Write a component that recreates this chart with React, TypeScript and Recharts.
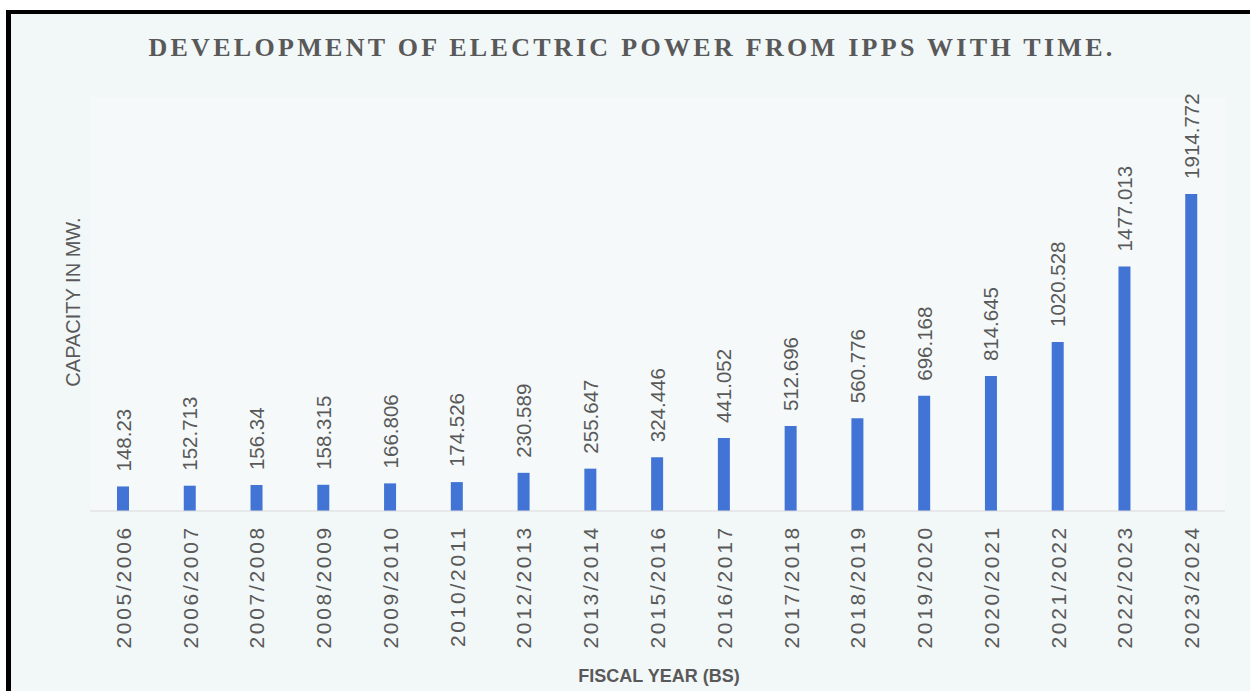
import { BarChart, Bar, XAxis, YAxis, LabelList, Label, CartesianGrid } from "recharts";

const fiscalYears = [
  "2005/2006", "2006/2007", "2007/2008", "2008/2009", "2009/2010", "2010/2011",
  "2012/2013", "2013/2014", "2015/2016", "2016/2017", "2017/2018", "2018/2019",
  "2019/2020", "2020/2021", "2021/2022", "2022/2023", "2023/2024",
];

const capacityMW = [
  148.23, 152.713, 156.34, 158.315, 166.806, 174.526, 230.589, 255.647, 324.446,
  441.052, 512.696, 560.776, 696.168, 814.645, 1020.528, 1477.013, 1914.772,
];

const data = fiscalYears.map((year, i) => ({ year, capacity: capacityMW[i] }));

const GREY = "#595959";
const SANS = "'Liberation Sans', Arial, sans-serif";

function YearTick({ x, y, payload }: any) {
  return (
    <text
      transform={`translate(${x},${y + 6}) rotate(-90)`}
      textAnchor="end"
      dominantBaseline="central"
      fill={GREY}
      fontSize={21}
      letterSpacing={2.7}
      fontFamily={SANS}
    >
      {payload.value}
    </text>
  );
}

function ValueLabel({ x, y, width, value }: any) {
  return (
    <text
      transform={`translate(${x + width / 2},${y - 15}) rotate(-90)`}
      textAnchor="start"
      dominantBaseline="central"
      fill={GREY}
      fontSize={20.5}
      fontFamily={SANS}
    >
      {value}
    </text>
  );
}

export default function App() {
  return (
    <div style={{ position: "relative", width: 1250, height: 691, background: "#ffffff", overflow: "hidden" }}>
      <style>{`body{margin:0}`}</style>
      {/* frame */}
      <div
        style={{
          position: "absolute",
          left: 6,
          top: 10,
          width: 1260,
          height: 700,
          borderTop: "4px solid #000",
          borderLeft: "5px solid #000",
          background: "#f2f7f8",
        }}
      />
      <svg width={1250} height={80} style={{ position: "absolute", left: 0, top: 0 }}>
        <text
          x={632}
          y={56}
          textAnchor="middle"
          fill={GREY}
          fontSize={26}
          fontWeight="bold"
          letterSpacing={3.3}
          fontFamily="'Liberation Serif', 'DejaVu Serif', serif"
        >
          DEVELOPMENT OF ELECTRIC POWER FROM IPPS WITH TIME.
        </text>
      </svg>
      <div style={{ position: "absolute", left: 0, top: 0 }}>
        <BarChart
          width={1250}
          height={691}
          data={data}
          margin={{ top: 97, right: 25, bottom: 10, left: 0 }}
          barCategoryGap={0}
        >
          <CartesianGrid horizontal={false} vertical={false} fill="#f5f9fa" />
          <XAxis
            dataKey="year"
            interval={0}
            height={170}
            tickLine={false}
            axisLine={{ stroke: "#d9d9d9" }}
            tick={<YearTick />}
          >
            <Label
              content={() => (
                <text
                  x={659}
                  y={682}
                  textAnchor="middle"
                  fill={GREY}
                  fontSize={18}
                  fontWeight="bold"
                  fontFamily={SANS}
                >
                  FISCAL YEAR (BS)
                </text>
              )}
            />
          </XAxis>
          <YAxis width={90} domain={[0, 2500]} tick={false} tickLine={false} axisLine={false}>
            <Label
              content={() => (
                <text
                  transform="translate(73,302) rotate(-90)"
                  textAnchor="middle"
                  dominantBaseline="central"
                  fill={GREY}
                  fontSize={20}
                  fontFamily={SANS}
                >
                  CAPACITY IN MW.
                </text>
              )}
            />
          </YAxis>
          <Bar dataKey="capacity" fill="#4274d6" barSize={12} isAnimationActive={false}>
            <LabelList dataKey="capacity" content={<ValueLabel />} />
          </Bar>
        </BarChart>
      </div>
    </div>
  );
}
